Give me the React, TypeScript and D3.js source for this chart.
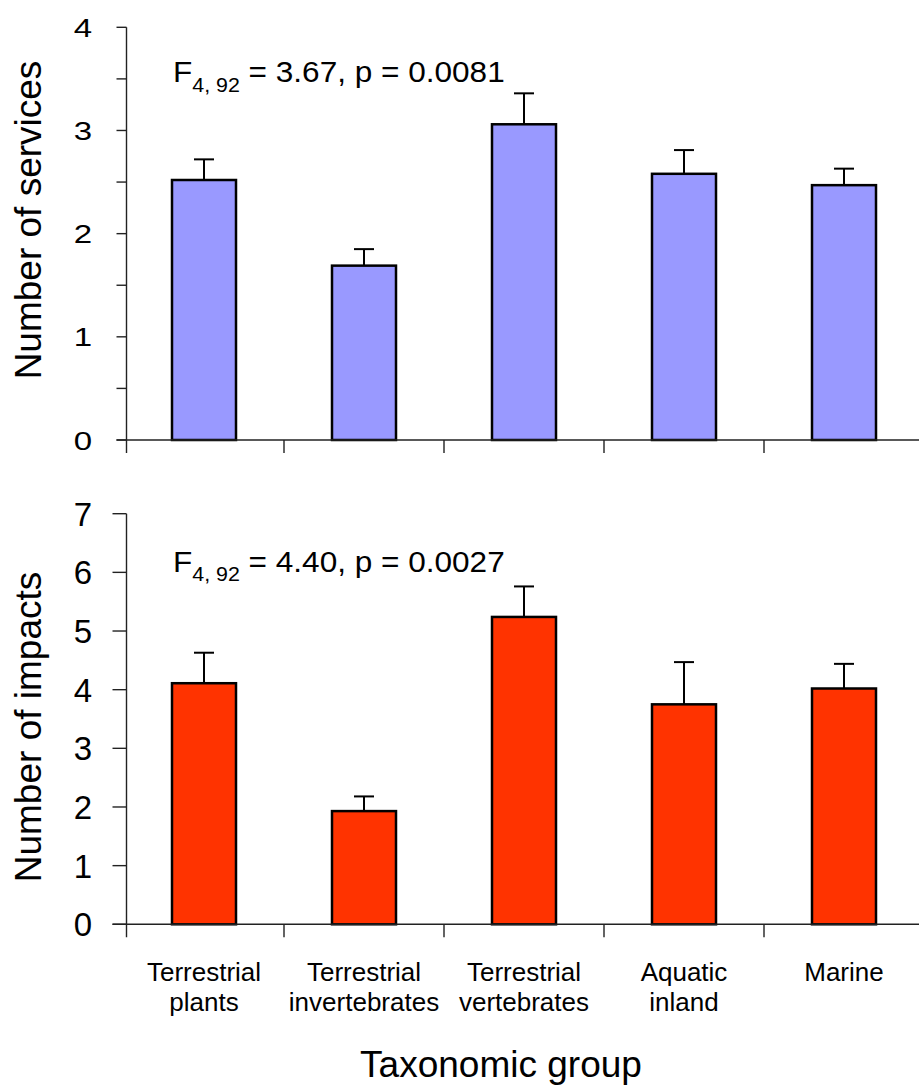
import React from "react";
import * as d3 from "d3";

const categories = [
  ["Terrestrial", "plants"],
  ["Terrestrial", "invertebrates"],
  ["Terrestrial", "vertebrates"],
  ["Aquatic", "inland"],
  ["Marine"],
];
const catKeys = ["tp", "ti", "tv", "ai", "ma"];

const servicesMean = [2.52, 1.69, 3.06, 2.58, 2.47];
const servicesSE = [0.2, 0.16, 0.3, 0.23, 0.16];
const impactsMean = [4.11, 1.93, 5.24, 3.75, 4.02];
const impactsSE = [0.52, 0.25, 0.52, 0.72, 0.42];

const servicesTicks = [0, 1, 2, 3, 4];
const servicesMinor = [0.5, 1.5, 2.5, 3.5];
const impactsTicks = [0, 1, 2, 3, 4, 5, 6, 7];

const W = 919;
const H = 1090;
const FONT = "'Liberation Sans', Arial, sans-serif";
const AXIS_X = 126.5;

const x = d3.scaleBand<string>().domain(catKeys).range([124, 924]).paddingInner(0.6).paddingOuter(0.3);

type PanelProps = {
  means: number[];
  ses: number[];
  yMax: number;
  y0: number;
  y1: number;
  ticks: number[];
  minor: number[];
  tickLen: number;
  tickScaleY: number;
  fill: string;
  title: string;
  titleY: number;
  fStat: string;
  rest: string;
  annotY: number;
};

function Panel(p: PanelProps) {
  const y = d3.scaleLinear().domain([0, p.yMax]).range([p.y0, p.y1]);
  const bw = x.bandwidth();
  const bounds = catKeys.slice(1).map((k) => (x(k) as number) - (x.step() - bw) / 2);
  return (
    <g>
      {catKeys.map((k, i) => {
        const cx = (x(k) as number) + bw / 2;
        const top = y(p.means[i]);
        const eTop = y(p.means[i] + p.ses[i]);
        return (
          <g key={k}>
            <line x1={cx} x2={cx} y1={top} y2={eTop} stroke="#000" strokeWidth={2} />
            <line x1={cx - 10} x2={cx + 10} y1={eTop} y2={eTop} stroke="#000" strokeWidth={2} />
            <rect x={x(k)} y={top} width={bw} height={p.y0 - top} fill={p.fill} stroke="#000" strokeWidth={2.5} />
          </g>
        );
      })}
      <line x1={AXIS_X} x2={AXIS_X} y1={y(p.yMax)} y2={p.y0 + 13} stroke="#222" strokeWidth={1.4} />
      <line x1={AXIS_X - p.tickLen} x2={W} y1={p.y0} y2={p.y0} stroke="#222" strokeWidth={1.4} />
      {p.ticks.map((t) => (
        <g key={t}>
          <line x1={AXIS_X - p.tickLen} x2={AXIS_X} y1={y(t)} y2={y(t)} stroke="#222" strokeWidth={1.4} />
          <text
            transform={`translate(92,${y(t)}) scale(1,${p.tickScaleY})`}
            dy="0.36em"
            textAnchor="end"
            fontSize={33}
            fontFamily={FONT}
            fill="#000"
          >
            {t}
          </text>
        </g>
      ))}
      {p.minor.map((t) => (
        <line key={"m" + t} x1={AXIS_X - p.tickLen} x2={AXIS_X} y1={y(t)} y2={y(t)} stroke="#222" strokeWidth={1.4} />
      ))}
      {bounds.map((b, i) => (
        <line key={"b" + i} x1={b} x2={b} y1={p.y0} y2={p.y0 + 13} stroke="#222" strokeWidth={1.4} />
      ))}
      <text
        transform={`translate(41,${p.titleY}) rotate(-90)`}
        textAnchor="middle"
        fontSize={37}
        fontFamily={FONT}
        fill="#000"
      >
        {p.title}
      </text>
      <text
        transform={`translate(173,${p.annotY}) scale(1.07,1)`}
        fontSize={29.5}
        fontFamily={FONT}
        fill="#000"
      >
        <tspan>F</tspan>
        <tspan fontSize={20} dy={9.4}>{p.fStat}</tspan>
        <tspan dy={-9.4}>{p.rest}</tspan>
      </text>
    </g>
  );
}

export default function App() {
  return (
    <svg width={W} height={H} style={{ position: "absolute", left: 0, top: 0, background: "#fff" }}>
      <rect width={W} height={H} fill="#fff" />
      <Panel
        means={servicesMean}
        ses={servicesSE}
        yMax={4}
        y0={440}
        y1={27.3}
        ticks={servicesTicks}
        minor={servicesMinor}
        tickLen={10}
        tickScaleY={0.8}
        fill="#9999FF"
        title="Number of services"
        titleY={220}
        fStat="4, 92"
        rest={" = 3.67, p = 0.0081"}
        annotY={82.3}
      />
      <Panel
        means={impactsMean}
        ses={impactsSE}
        yMax={7}
        y0={924.3}
        y1={513.7}
        ticks={impactsTicks}
        minor={[]}
        tickLen={14}
        tickScaleY={1}
        fill="#FF3300"
        title="Number of impacts"
        titleY={727}
        fStat="4, 92"
        rest={" = 4.40, p = 0.0027"}
        annotY={571.7}
      />
      {categories.map((lines, i) => {
        const cx = (x(catKeys[i]) as number) + x.bandwidth() / 2;
        return (
          <text key={i} x={cx} y={980.7} textAnchor="middle" fontSize={26} fontFamily={FONT} fill="#000">
            {lines.map((l, j) => (
              <tspan key={j} x={cx} dy={j === 0 ? 0 : 30}>
                {l}
              </tspan>
            ))}
          </text>
        );
      })}
      <text x={501} y={1077} textAnchor="middle" fontSize={37} fontFamily={FONT} fill="#000">
        Taxonomic group
      </text>
    </svg>
  );
}
